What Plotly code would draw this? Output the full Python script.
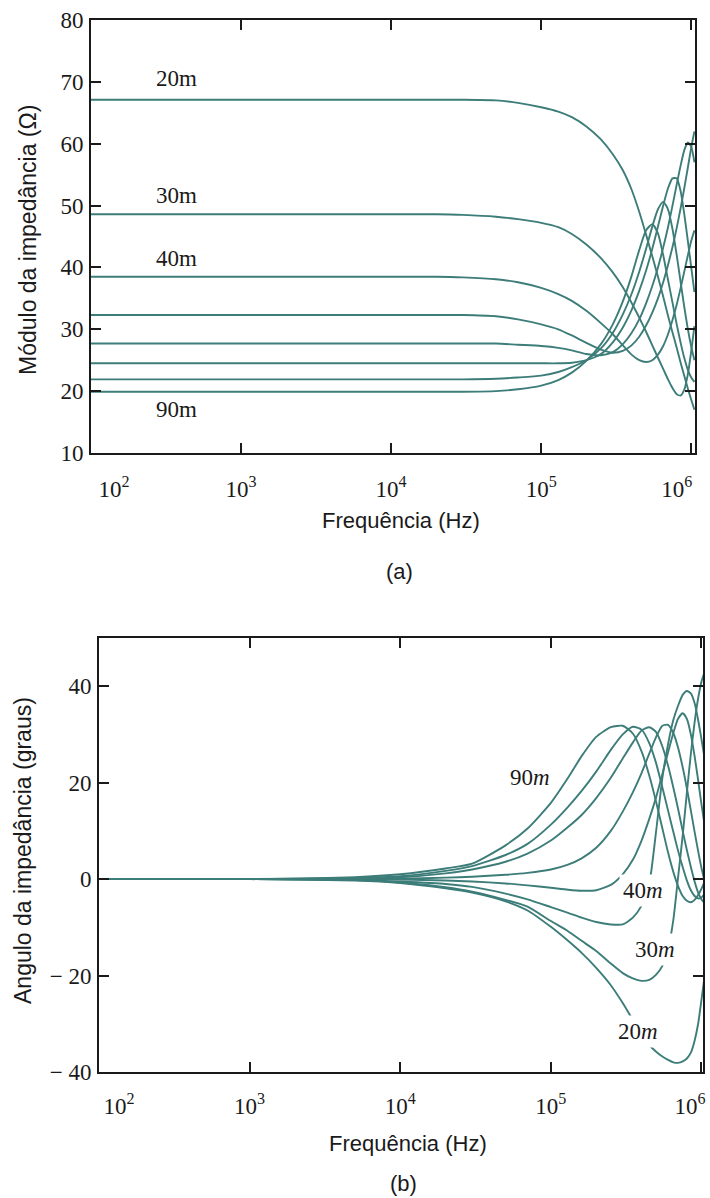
import math
import plotly.graph_objects as go

# Frequency grid (Hz) shared by every trace
freq_hz = [1e2, 1e3, 5e3, 1e4, 2e4, 3e4, 5e4, 7e4, 1e5, 1.3e5, 1.6e5, 2e5, 2.5e5,
           3e5, 3.5e5, 4e5, 4.5e5, 5e5, 5.5e5, 6e5, 6.5e5, 7e5, 7.5e5, 8e5, 8.5e5,
           9e5, 9.5e5, 1e6, 1.05e6]

cable_lengths = ["20m", "30m", "40m", "50m", "60m", "70m", "80m", "90m"]

# |Z| (ohm) for each cable length
modulo_20m = [67.1, 67.1, 67.1, 67.1, 67.1, 67.1, 67.0, 66.6, 65.9, 65.2, 64.3, 62.8, 60.7,
              58.3, 55.7, 52.6, 49.0, 45.3, 41.8, 38.5, 35.3, 32.2, 29.5, 27.0, 24.6,
              22.4, 20.4, 18.6, 17.0]
modulo_30m = [48.6, 48.6, 48.6, 48.6, 48.6, 48.5, 48.2, 47.8, 47.2, 46.5, 45.4, 43.7, 41.5,
              39.2, 36.8, 34.3, 31.9, 29.6, 27.4, 25.4, 23.6, 21.9, 20.5, 19.5, 19.3,
              20.3, 22.8, 26.5, 30.5]
modulo_40m = [38.5, 38.5, 38.5, 38.5, 38.5, 38.4, 38.1, 37.6, 36.7, 35.7, 34.6, 33.0, 31.0,
              29.2, 27.4, 25.9, 25.0, 24.7, 25.0, 25.9, 27.3, 29.2, 31.5, 34.0, 36.7,
              39.4, 42.0, 44.3, 46.0]
modulo_50m = [32.3, 32.3, 32.3, 32.3, 32.3, 32.3, 32.1, 31.6, 30.8, 30.0, 29.0, 27.8, 26.7,
              26.2, 26.5, 27.4, 28.8, 30.6, 32.7, 35.0, 37.6, 40.4, 43.3, 46.4, 49.6,
              52.9, 56.2, 59.4, 62.0]
modulo_60m = [27.7, 27.7, 27.7, 27.7, 27.7, 27.7, 27.7, 27.5, 27.3, 27.0, 26.6, 26.0, 25.8,
              26.3, 27.6, 29.4, 31.6, 34.2, 37.0, 40.0, 43.2, 46.5, 50.0, 53.4, 56.5,
              59.0, 60.2, 59.5, 57.0]
modulo_70m = [24.5, 24.5, 24.5, 24.5, 24.5, 24.5, 24.5, 24.5, 24.5, 24.5, 24.6, 25.0, 26.0,
              27.9, 30.3, 33.1, 36.2, 39.5, 43.0, 46.6, 50.0, 52.8, 54.4, 54.4, 52.3,
              48.5, 44.2, 40.0, 36.0]
modulo_80m = [21.9, 21.9, 21.9, 21.9, 21.9, 21.9, 22.0, 22.2, 22.5, 23.1, 23.9, 25.0, 26.9,
              29.4, 32.4, 35.7, 39.3, 43.0, 46.6, 49.4, 50.6, 49.4, 46.2, 42.0, 37.6,
              33.5, 30.0, 27.2, 25.0]
modulo_90m = [19.9, 19.9, 19.9, 19.9, 19.9, 19.9, 20.0, 20.3, 20.9, 21.8, 23.0, 24.9, 27.6,
              30.8, 34.5, 38.6, 42.8, 46.0, 47.0, 45.5, 42.0, 38.0, 34.3, 30.8, 27.8,
              25.3, 23.4, 22.2, 21.5]

# Phase of Z (degrees) for each cable length
angulo_20m = [0, 0, -0.3, -0.8, -1.9, -2.8, -4.6, -6.5, -9.9, -12.8, -15.3, -18.4, -22.0,
              -25.7, -29.2, -32.3, -34.4, -35.8, -36.8, -37.5, -38.0, -38.1, -37.8, -37.2,
              -36.0, -33.5, -30.0, -25.0, -20.0]
angulo_30m = [0, 0, -0.2, -0.7, -1.7, -2.6, -4.3, -5.7, -8.7, -10.8, -12.8, -14.9, -17.5,
              -19.5, -20.6, -21.1, -20.9, -19.8, -18.0, -14.5, -8.5, 0.5, 9.0, 18.0, 26.0,
              32.5, 37.5, 41.0, 43.0]
angulo_40m = [0, 0, -0.1, -0.5, -1.0, -1.6, -3.0, -4.2, -5.8, -7.0, -8.0, -8.9, -9.4,
              -9.4, -8.0, -5.5, -1.0, 10.0, 21.0, 28.0, 33.0, 36.0, 38.2, 39.0, 38.5,
              36.5, 33.0, 29.0, 25.0]
angulo_50m = [0, 0, -0.05, -0.1, -0.3, -0.5, -0.9, -1.3, -1.8, -2.2, -2.4, -2.3, -1.2,
              1.0, 4.0, 8.0, 12.5, 17.0, 21.8, 26.3, 30.3, 33.3, 34.4, 33.2, 30.0,
              25.5, 20.5, 15.5, 11.0]
angulo_60m = [0, 0, 0.05, 0.1, 0.3, 0.5, 0.9, 1.3, 2.0, 3.0, 4.3, 6.5, 10.0,
              14.0, 18.0, 22.0, 26.0, 29.5, 31.8, 32.0, 30.3, 27.2, 23.2, 18.8, 14.2,
              9.8, 5.8, 2.3, -0.5]
angulo_70m = [0, 0, 0.15, 0.4, 1.2, 2.0, 3.6, 5.3, 8.0, 10.8, 13.3, 16.8, 21.0,
              25.0, 28.3, 30.8, 31.5, 30.5, 27.5, 23.5, 19.0, 14.5, 10.0, 6.0, 2.5,
              -0.5, -2.8, -4.2, -5.0]
angulo_80m = [0, 0, 0.25, 0.6, 1.7, 2.7, 5.0, 7.3, 11.3, 15.0, 18.3, 22.3, 26.8,
              30.0, 31.6, 31.0, 28.2, 24.0, 19.0, 14.2, 9.8, 5.8, 2.5, -0.3, -2.3,
              -3.5, -4.0, -3.8, -3.0]
angulo_90m = [0, 0, 0.4, 1.0, 2.2, 3.2, 7.0, 10.5, 15.8, 21.0, 25.5, 29.5, 31.5,
              31.8, 30.2, 26.5, 21.5, 16.0, 10.5, 5.5, 1.5, -1.5, -3.5, -4.5, -4.8,
              -4.3, -3.3, -2.0, -0.5]

modulo = [modulo_20m, modulo_30m, modulo_40m, modulo_50m,
          modulo_60m, modulo_70m, modulo_80m, modulo_90m]
angulo = [angulo_20m, angulo_30m, angulo_40m, angulo_50m,
          angulo_60m, angulo_70m, angulo_80m, angulo_90m]

# Axis ticks
x_tickvals = [1e2, 1e3, 1e4, 1e5, 1e6]
nb = "\u00a0"
x_ticktext_a = [nb * 8 + "10<sup>2</sup>", "10<sup>3</sup>", "10<sup>4</sup>",
                "10<sup>5</sup>", "10<sup>6</sup>" + nb * 5]
x_ticktext_b = [nb * 7 + "10<sup>2</sup>", "10<sup>3</sup>", "10<sup>4</sup>",
                "10<sup>5</sup>", "10<sup>6</sup>" + nb * 4]
y_tickvals_a = [10, 20, 30, 40, 50, 60, 70, 80]
y_tickvals_b = [-40, -20, 0, 20, 40]
y_ticktext_b = ["\u2212 40", "\u2212 20", "0", "20", "40"]

LINE = "#3d7d79"
INK = "#1a1a1a"
SERIF = "Liberation Serif"
SANS = "Liberation Sans"

fig = go.Figure()

for name, ys in zip(cable_lengths, modulo):
    fig.add_trace(go.Scatter(x=freq_hz, y=ys, mode="lines", name=name,
                             line=dict(color=LINE, width=1.9, shape="spline", smoothing=0.6),
                             xaxis="x", yaxis="y", showlegend=False))
for name, ys in zip(cable_lengths, angulo):
    fig.add_trace(go.Scatter(x=freq_hz, y=ys, mode="lines", name=name,
                             line=dict(color=LINE, width=1.9, shape="spline", smoothing=0.6),
                             xaxis="x2", yaxis="y2", showlegend=False))

W, H = 710, 1198


def px_x(p):
    return p / W


def px_y(p):
    return 1 - p / H


axis_common = dict(showline=True, linecolor=INK, linewidth=2, mirror="ticks",
                   ticks="inside", ticklen=10, tickwidth=1.5, tickcolor=INK,
                   showgrid=False, zeroline=False, automargin=False,
                   ticklabeloverflow="allow",
                   tickfont=dict(family=SERIF, size=23, color=INK))

fig.update_layout(
    width=W, height=H, margin=dict(l=0, r=0, t=0, b=0, autoexpand=False),
    paper_bgcolor="white", plot_bgcolor="white", showlegend=False,
    xaxis=dict(type="log", range=[2, 6.025], domain=[px_x(91), px_x(695)], anchor="y",
               tickvals=x_tickvals, ticktext=x_ticktext_a, ticklabelstandoff=14,
               **axis_common),
    yaxis=dict(range=[10, 80], domain=[px_y(453), px_y(20)], anchor="x",
               tickvals=y_tickvals_a, ticklabelstandoff=1, **axis_common),
    xaxis2=dict(type="log", range=[2, 6.01], domain=[px_x(99), px_x(703)], anchor="y2",
                tickvals=x_tickvals, ticktext=x_ticktext_b, ticklabelstandoff=12,
                **axis_common),
    yaxis2=dict(range=[-40, 50], domain=[px_y(1072), px_y(638)], anchor="x2",
                tickvals=y_tickvals_b, ticktext=y_ticktext_b, ticklabelstandoff=1,
                **axis_common),
)


def paper_text(text, x, y, size, angle=0):
    return dict(text=text, x=px_x(x), y=px_y(y), xref="paper", yref="paper",
                xanchor="center", yanchor="middle", textangle=angle, showarrow=False,
                font=dict(family=SANS, size=size, color=INK))


annotations = [
    paper_text("Frequência (Hz)", 401, 520, 22),
    paper_text("Módulo da impedância (Ω)", 28, 240, 23, -90),
    paper_text("(a)", 399, 571, 22),
    paper_text("Frequência (Hz)", 408, 1143, 22),
    paper_text("Angulo da impedância (graus)", 23, 851, 23, -90),
    paper_text("(b)", 403, 1183, 22),
]

# Curve labels, panel (a)
labels_a = [("20m", 369, 70.6), ("30m", 369, 51.6), ("40m", 369, 41.5), ("90m", 369, 17.0)]
for txt, f, v in labels_a:
    annotations.append(dict(text=txt, x=math.log10(f), y=v, xref="x", yref="y",
                            xanchor="center", yanchor="middle", showarrow=False,
                            font=dict(family=SERIF, size=23, color=INK)))

# Curve labels, panel (b)
labels_b = [("90<i>m</i>", 7.24e4, 21.1, None), ("40<i>m</i>", 4.06e5, -2.3, "white"),
            ("30<i>m</i>", 4.91e5, -14.5, "white"), ("20<i>m</i>", 3.81e5, -31.5, "white")]
for txt, f, v, bg in labels_b:
    a = dict(text=txt, x=math.log10(f), y=v, xref="x2", yref="y2", showarrow=False,
             xanchor="center", yanchor="middle",
             font=dict(family=SERIF, size=23, color=INK))
    if bg:
        a.update(bgcolor=bg, borderpad=3)
    annotations.append(a)

fig.update_layout(annotations=annotations)

fig.write_html("out.html")
